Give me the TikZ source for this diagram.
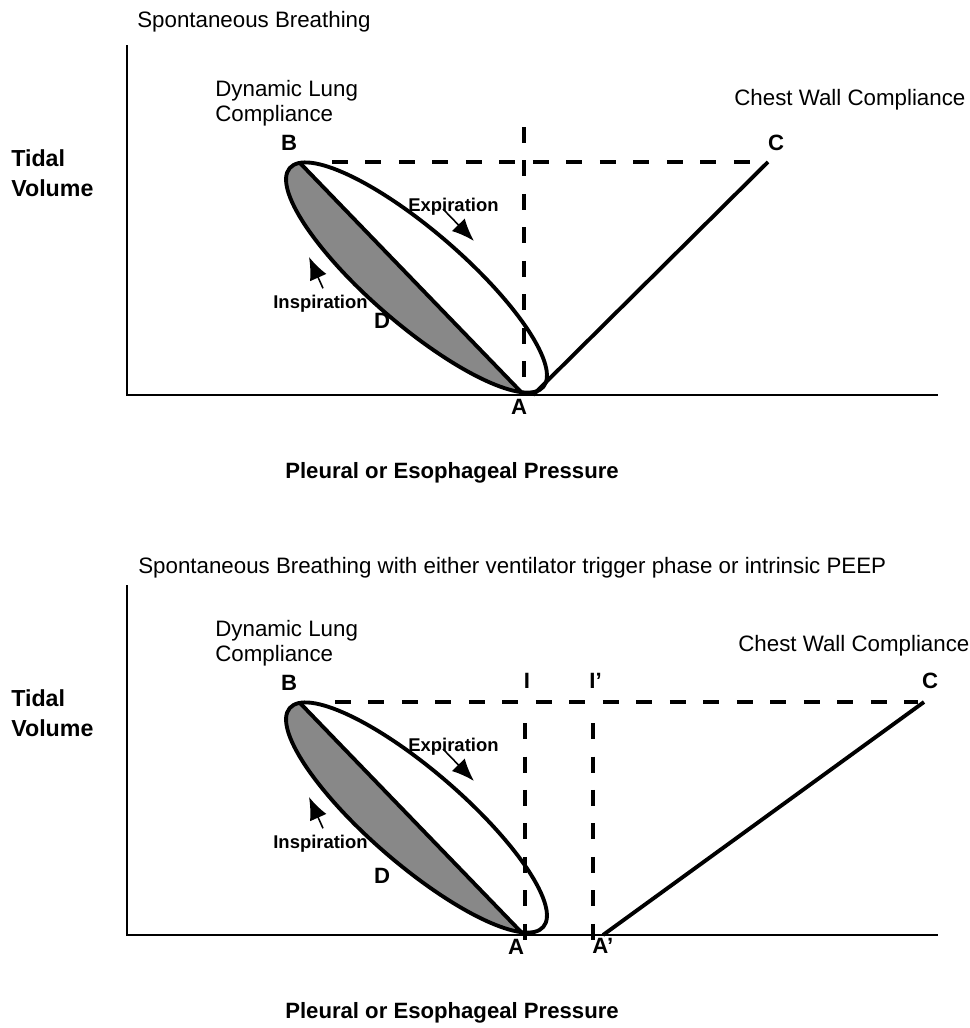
\documentclass[tikz,border=0pt]{standalone}
\usepackage{fontspec}
\setmainfont{Liberation Sans}
\usetikzlibrary{calc,arrows.meta}

\tikzset{
	txt/.style = {inner sep=0pt, font=\fontsize{12.7}{14.2}\selectfont},
	bold/.style = {inner sep=0pt, font=\bfseries\fontsize{12.6}{14.8}\selectfont},
	axislabel/.style = {inner sep=0pt, font=\bfseries\fontsize{13.2}{17}\selectfont},
	small/.style = {inner sep=0pt, font=\bfseries\fontsize{10.5}{12}\selectfont},
	axisline/.style = {line width=1.6pt},
	loopline/.style = {line width=2.2pt},
	dashline/.style = {line width=1.9pt, dash pattern=on 0.32cm off 0.35cm},
	flow/.style = {line width=0.9pt, -{Latex[length=0.45cm, width=0.36cm]}},
}

\begin{document}
\begin{tikzpicture}[x=0.02cm, y=-0.02cm]

	% Frame (pixel units, y downwards)
	
	\useasboundingbox (0,0) rectangle (970,1028);

	% Both panels share the axes and the lung loop
	
	\foreach \p/\dy/\dd/\ax in {t/0/328/519, b/540/343/516}{
	\begin{scope}[shift={(0,\dy)}]
	
		% Axes
		
		\coordinate (top\p) at (127,45);
		\coordinate (O\p) at (127,395);
		\coordinate (end\p) at (938,395);
		\draw [axisline] (top\p) -- (O\p) -- (end\p);
		
		\node [axislabel, anchor=north west, align=left] (tv\p) at (11,149) {Tidal\\Volume};
		\node [bold, anchor=base] (press\p) at (452,478) {Pleural or Esophageal Pressure};
		\node [txt, anchor=north west, align=left] (dyn\p) at (215,80) {Dynamic Lung\\Compliance};
		
		% Lung loop
		
		\begin{scope}[shift={(416.5,277.5)}, rotate=-40.8]
			\coordinate (B\p) at (167:3.35cm and 0.94cm);
			\coordinate (A\p) at (-23:3.35cm and 0.94cm);
			\fill [gray!90!black!85] (B\p) arc [start angle=167, end angle=337, x radius=3.35cm, y radius=0.94cm] -- cycle;
			\draw [loopline] (0,0) ellipse [x radius=3.35cm, y radius=0.94cm];
		\end{scope}
		\draw [loopline] (B\p) -- (A\p);
		
		\node [bold, anchor=base] (labB\p) at (289,150) {B};
		\node [bold, anchor=base] (labA\p) at (\ax,414) {A};
		\node [bold, anchor=base] (labD\p) at (382,\dd) {D};
		
		% Breathing direction
		
		\node [small, anchor=base west] (exp\p) at (408,211) {Expiration};
		\node [small, anchor=base west] (ins\p) at (273,308) {Inspiration};
		\coordinate (expHead\p) at (474,241);
		\coordinate (insHead\p) at (309,257);
		\draw [flow] (exp\p.base west) ++(35,-2) coordinate (expTail\p) -- (expHead\p);
		\draw [flow] (ins\p.north west) ++(50,-6) coordinate (insTail\p) -- (insHead\p);
		
	\end{scope}
	}
	
	% Upper panel
	
	\node [txt, anchor=base west] (title) at (137,27) {Spontaneous Breathing};
	\node [txt, anchor=base west] (chest) at (734,105) {Chest Wall Compliance};
	\node [bold, anchor=base] (labC) at (776,150) {C};
	
	\coordinate (Ct) at (768,162);
	\coordinate (foot) at (533,395);
	\coordinate (Bdash) at (332,162);
	\coordinate (Cdash) at (750,162);
	\coordinate (Itop) at (524,127);
	\coordinate (Ibot) at (524,395);
	
	\draw [dashline] (Bdash) -- (Cdash);
	\draw [dashline] (Itop) -- (Ibot);
	\draw [loopline] (foot) -- (Ct);
	
	% Lower panel
	
	\node [txt, anchor=base west] (title2) at (138,573) {Spontaneous Breathing with either ventilator trigger phase or intrinsic PEEP};
	\node [txt, anchor=base west] (chest2) at (738,651) {Chest Wall Compliance};
	\node [bold, anchor=base] (labC2) at (930,688) {C};
	\node [bold, anchor=base] (labI) at (527,688) {I};
	\node [bold, anchor=base west] (labI2) at (589,688) {I'};
	\node [bold, anchor=base west] (labA2) at (592,953) {A'};
	
	\coordinate (Cb) at (924,702);
	\coordinate (foot2) at (603,935);
	\coordinate (Bdash2) at (335,702);
	\coordinate (Cdash2) at (918,702);
	\coordinate (Itop2) at (525,723);
	\coordinate (Ibot2) at (525,942);
	\coordinate (Iptop) at (593,723);
	\coordinate (Ipbot) at (593,942);
	
	\draw [dashline] (Bdash2) -- (Cdash2);
	\draw [dashline] (Itop2) -- (Ibot2);
	\draw [dashline] (Iptop) -- (Ipbot);
	\draw [loopline] (foot2) -- (Cb);

\end{tikzpicture}
\end{document}
